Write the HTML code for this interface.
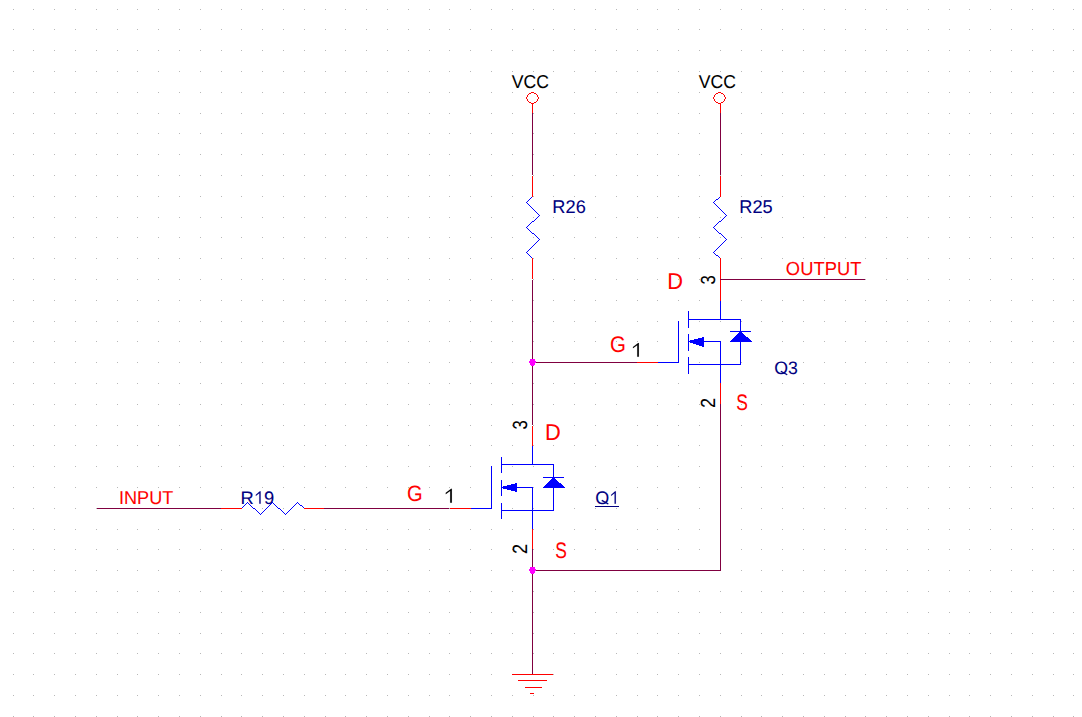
<!DOCTYPE html>
<html><head><meta charset="utf-8"><title>Schematic</title>
<style>html,body{margin:0;padding:0;background:#fff;width:1082px;height:717px;overflow:hidden}svg{display:block}text{font-family:"Liberation Sans",sans-serif}</style>
</head><body><svg width="1082" height="717" viewBox="0 0 1082 717"><g shape-rendering="crispEdges"><path d="M13 9h1v1h-1zM13 29h1v1h-1zM13 50h1v1h-1zM13 71h1v1h-1zM13 92h1v1h-1zM13 113h1v1h-1zM13 133h1v1h-1zM13 154h1v1h-1zM13 175h1v1h-1zM13 196h1v1h-1zM13 217h1v1h-1zM13 237h1v1h-1zM13 258h1v1h-1zM13 279h1v1h-1zM13 300h1v1h-1zM13 321h1v1h-1zM13 341h1v1h-1zM13 362h1v1h-1zM13 383h1v1h-1zM13 404h1v1h-1zM13 425h1v1h-1zM13 445h1v1h-1zM13 466h1v1h-1zM13 487h1v1h-1zM13 508h1v1h-1zM13 529h1v1h-1zM13 549h1v1h-1zM13 570h1v1h-1zM13 591h1v1h-1zM13 612h1v1h-1zM13 633h1v1h-1zM13 653h1v1h-1zM13 674h1v1h-1zM13 695h1v1h-1zM13 716h1v1h-1zM33 9h1v1h-1zM33 29h1v1h-1zM33 50h1v1h-1zM33 71h1v1h-1zM33 92h1v1h-1zM33 113h1v1h-1zM33 133h1v1h-1zM33 154h1v1h-1zM33 175h1v1h-1zM33 196h1v1h-1zM33 217h1v1h-1zM33 237h1v1h-1zM33 258h1v1h-1zM33 279h1v1h-1zM33 300h1v1h-1zM33 321h1v1h-1zM33 341h1v1h-1zM33 362h1v1h-1zM33 383h1v1h-1zM33 404h1v1h-1zM33 425h1v1h-1zM33 445h1v1h-1zM33 466h1v1h-1zM33 487h1v1h-1zM33 508h1v1h-1zM33 529h1v1h-1zM33 549h1v1h-1zM33 570h1v1h-1zM33 591h1v1h-1zM33 612h1v1h-1zM33 633h1v1h-1zM33 653h1v1h-1zM33 674h1v1h-1zM33 695h1v1h-1zM33 716h1v1h-1zM54 9h1v1h-1zM54 29h1v1h-1zM54 50h1v1h-1zM54 71h1v1h-1zM54 92h1v1h-1zM54 113h1v1h-1zM54 133h1v1h-1zM54 154h1v1h-1zM54 175h1v1h-1zM54 196h1v1h-1zM54 217h1v1h-1zM54 237h1v1h-1zM54 258h1v1h-1zM54 279h1v1h-1zM54 300h1v1h-1zM54 321h1v1h-1zM54 341h1v1h-1zM54 362h1v1h-1zM54 383h1v1h-1zM54 404h1v1h-1zM54 425h1v1h-1zM54 445h1v1h-1zM54 466h1v1h-1zM54 487h1v1h-1zM54 508h1v1h-1zM54 529h1v1h-1zM54 549h1v1h-1zM54 570h1v1h-1zM54 591h1v1h-1zM54 612h1v1h-1zM54 633h1v1h-1zM54 653h1v1h-1zM54 674h1v1h-1zM54 695h1v1h-1zM54 716h1v1h-1zM75 9h1v1h-1zM75 29h1v1h-1zM75 50h1v1h-1zM75 71h1v1h-1zM75 92h1v1h-1zM75 113h1v1h-1zM75 133h1v1h-1zM75 154h1v1h-1zM75 175h1v1h-1zM75 196h1v1h-1zM75 217h1v1h-1zM75 237h1v1h-1zM75 258h1v1h-1zM75 279h1v1h-1zM75 300h1v1h-1zM75 321h1v1h-1zM75 341h1v1h-1zM75 362h1v1h-1zM75 383h1v1h-1zM75 404h1v1h-1zM75 425h1v1h-1zM75 445h1v1h-1zM75 466h1v1h-1zM75 487h1v1h-1zM75 508h1v1h-1zM75 529h1v1h-1zM75 549h1v1h-1zM75 570h1v1h-1zM75 591h1v1h-1zM75 612h1v1h-1zM75 633h1v1h-1zM75 653h1v1h-1zM75 674h1v1h-1zM75 695h1v1h-1zM75 716h1v1h-1zM96 9h1v1h-1zM96 29h1v1h-1zM96 50h1v1h-1zM96 71h1v1h-1zM96 92h1v1h-1zM96 113h1v1h-1zM96 133h1v1h-1zM96 154h1v1h-1zM96 175h1v1h-1zM96 196h1v1h-1zM96 217h1v1h-1zM96 237h1v1h-1zM96 258h1v1h-1zM96 279h1v1h-1zM96 300h1v1h-1zM96 321h1v1h-1zM96 341h1v1h-1zM96 362h1v1h-1zM96 383h1v1h-1zM96 404h1v1h-1zM96 425h1v1h-1zM96 445h1v1h-1zM96 466h1v1h-1zM96 487h1v1h-1zM96 508h1v1h-1zM96 529h1v1h-1zM96 549h1v1h-1zM96 570h1v1h-1zM96 591h1v1h-1zM96 612h1v1h-1zM96 633h1v1h-1zM96 653h1v1h-1zM96 674h1v1h-1zM96 695h1v1h-1zM96 716h1v1h-1zM117 9h1v1h-1zM117 29h1v1h-1zM117 50h1v1h-1zM117 71h1v1h-1zM117 92h1v1h-1zM117 113h1v1h-1zM117 133h1v1h-1zM117 154h1v1h-1zM117 175h1v1h-1zM117 196h1v1h-1zM117 217h1v1h-1zM117 237h1v1h-1zM117 258h1v1h-1zM117 279h1v1h-1zM117 300h1v1h-1zM117 321h1v1h-1zM117 341h1v1h-1zM117 362h1v1h-1zM117 383h1v1h-1zM117 404h1v1h-1zM117 425h1v1h-1zM117 445h1v1h-1zM117 466h1v1h-1zM117 487h1v1h-1zM117 508h1v1h-1zM117 529h1v1h-1zM117 549h1v1h-1zM117 570h1v1h-1zM117 591h1v1h-1zM117 612h1v1h-1zM117 633h1v1h-1zM117 653h1v1h-1zM117 674h1v1h-1zM117 695h1v1h-1zM117 716h1v1h-1zM137 9h1v1h-1zM137 29h1v1h-1zM137 50h1v1h-1zM137 71h1v1h-1zM137 92h1v1h-1zM137 113h1v1h-1zM137 133h1v1h-1zM137 154h1v1h-1zM137 175h1v1h-1zM137 196h1v1h-1zM137 217h1v1h-1zM137 237h1v1h-1zM137 258h1v1h-1zM137 279h1v1h-1zM137 300h1v1h-1zM137 321h1v1h-1zM137 341h1v1h-1zM137 362h1v1h-1zM137 383h1v1h-1zM137 404h1v1h-1zM137 425h1v1h-1zM137 445h1v1h-1zM137 466h1v1h-1zM137 487h1v1h-1zM137 508h1v1h-1zM137 529h1v1h-1zM137 549h1v1h-1zM137 570h1v1h-1zM137 591h1v1h-1zM137 612h1v1h-1zM137 633h1v1h-1zM137 653h1v1h-1zM137 674h1v1h-1zM137 695h1v1h-1zM137 716h1v1h-1zM158 9h1v1h-1zM158 29h1v1h-1zM158 50h1v1h-1zM158 71h1v1h-1zM158 92h1v1h-1zM158 113h1v1h-1zM158 133h1v1h-1zM158 154h1v1h-1zM158 175h1v1h-1zM158 196h1v1h-1zM158 217h1v1h-1zM158 237h1v1h-1zM158 258h1v1h-1zM158 279h1v1h-1zM158 300h1v1h-1zM158 321h1v1h-1zM158 341h1v1h-1zM158 362h1v1h-1zM158 383h1v1h-1zM158 404h1v1h-1zM158 425h1v1h-1zM158 445h1v1h-1zM158 466h1v1h-1zM158 487h1v1h-1zM158 508h1v1h-1zM158 529h1v1h-1zM158 549h1v1h-1zM158 570h1v1h-1zM158 591h1v1h-1zM158 612h1v1h-1zM158 633h1v1h-1zM158 653h1v1h-1zM158 674h1v1h-1zM158 695h1v1h-1zM158 716h1v1h-1zM179 9h1v1h-1zM179 29h1v1h-1zM179 50h1v1h-1zM179 71h1v1h-1zM179 92h1v1h-1zM179 113h1v1h-1zM179 133h1v1h-1zM179 154h1v1h-1zM179 175h1v1h-1zM179 196h1v1h-1zM179 217h1v1h-1zM179 237h1v1h-1zM179 258h1v1h-1zM179 279h1v1h-1zM179 300h1v1h-1zM179 321h1v1h-1zM179 341h1v1h-1zM179 362h1v1h-1zM179 383h1v1h-1zM179 404h1v1h-1zM179 425h1v1h-1zM179 445h1v1h-1zM179 466h1v1h-1zM179 487h1v1h-1zM179 508h1v1h-1zM179 529h1v1h-1zM179 549h1v1h-1zM179 570h1v1h-1zM179 591h1v1h-1zM179 612h1v1h-1zM179 633h1v1h-1zM179 653h1v1h-1zM179 674h1v1h-1zM179 695h1v1h-1zM179 716h1v1h-1zM200 9h1v1h-1zM200 29h1v1h-1zM200 50h1v1h-1zM200 71h1v1h-1zM200 92h1v1h-1zM200 113h1v1h-1zM200 133h1v1h-1zM200 154h1v1h-1zM200 175h1v1h-1zM200 196h1v1h-1zM200 217h1v1h-1zM200 237h1v1h-1zM200 258h1v1h-1zM200 279h1v1h-1zM200 300h1v1h-1zM200 321h1v1h-1zM200 341h1v1h-1zM200 362h1v1h-1zM200 383h1v1h-1zM200 404h1v1h-1zM200 425h1v1h-1zM200 445h1v1h-1zM200 466h1v1h-1zM200 487h1v1h-1zM200 508h1v1h-1zM200 529h1v1h-1zM200 549h1v1h-1zM200 570h1v1h-1zM200 591h1v1h-1zM200 612h1v1h-1zM200 633h1v1h-1zM200 653h1v1h-1zM200 674h1v1h-1zM200 695h1v1h-1zM200 716h1v1h-1zM221 9h1v1h-1zM221 29h1v1h-1zM221 50h1v1h-1zM221 71h1v1h-1zM221 92h1v1h-1zM221 113h1v1h-1zM221 133h1v1h-1zM221 154h1v1h-1zM221 175h1v1h-1zM221 196h1v1h-1zM221 217h1v1h-1zM221 237h1v1h-1zM221 258h1v1h-1zM221 279h1v1h-1zM221 300h1v1h-1zM221 321h1v1h-1zM221 341h1v1h-1zM221 362h1v1h-1zM221 383h1v1h-1zM221 404h1v1h-1zM221 425h1v1h-1zM221 445h1v1h-1zM221 466h1v1h-1zM221 487h1v1h-1zM221 508h1v1h-1zM221 529h1v1h-1zM221 549h1v1h-1zM221 570h1v1h-1zM221 591h1v1h-1zM221 612h1v1h-1zM221 633h1v1h-1zM221 653h1v1h-1zM221 674h1v1h-1zM221 695h1v1h-1zM221 716h1v1h-1zM241 9h1v1h-1zM241 29h1v1h-1zM241 50h1v1h-1zM241 71h1v1h-1zM241 92h1v1h-1zM241 113h1v1h-1zM241 133h1v1h-1zM241 154h1v1h-1zM241 175h1v1h-1zM241 196h1v1h-1zM241 217h1v1h-1zM241 237h1v1h-1zM241 258h1v1h-1zM241 279h1v1h-1zM241 300h1v1h-1zM241 321h1v1h-1zM241 341h1v1h-1zM241 362h1v1h-1zM241 383h1v1h-1zM241 404h1v1h-1zM241 425h1v1h-1zM241 445h1v1h-1zM241 466h1v1h-1zM241 487h1v1h-1zM241 508h1v1h-1zM241 529h1v1h-1zM241 549h1v1h-1zM241 570h1v1h-1zM241 591h1v1h-1zM241 612h1v1h-1zM241 633h1v1h-1zM241 653h1v1h-1zM241 674h1v1h-1zM241 695h1v1h-1zM241 716h1v1h-1zM262 9h1v1h-1zM262 29h1v1h-1zM262 50h1v1h-1zM262 71h1v1h-1zM262 92h1v1h-1zM262 113h1v1h-1zM262 133h1v1h-1zM262 154h1v1h-1zM262 175h1v1h-1zM262 196h1v1h-1zM262 217h1v1h-1zM262 237h1v1h-1zM262 258h1v1h-1zM262 279h1v1h-1zM262 300h1v1h-1zM262 321h1v1h-1zM262 341h1v1h-1zM262 362h1v1h-1zM262 383h1v1h-1zM262 404h1v1h-1zM262 425h1v1h-1zM262 445h1v1h-1zM262 466h1v1h-1zM262 487h1v1h-1zM262 508h1v1h-1zM262 529h1v1h-1zM262 549h1v1h-1zM262 570h1v1h-1zM262 591h1v1h-1zM262 612h1v1h-1zM262 633h1v1h-1zM262 653h1v1h-1zM262 674h1v1h-1zM262 695h1v1h-1zM262 716h1v1h-1zM283 9h1v1h-1zM283 29h1v1h-1zM283 50h1v1h-1zM283 71h1v1h-1zM283 92h1v1h-1zM283 113h1v1h-1zM283 133h1v1h-1zM283 154h1v1h-1zM283 175h1v1h-1zM283 196h1v1h-1zM283 217h1v1h-1zM283 237h1v1h-1zM283 258h1v1h-1zM283 279h1v1h-1zM283 300h1v1h-1zM283 321h1v1h-1zM283 341h1v1h-1zM283 362h1v1h-1zM283 383h1v1h-1zM283 404h1v1h-1zM283 425h1v1h-1zM283 445h1v1h-1zM283 466h1v1h-1zM283 487h1v1h-1zM283 508h1v1h-1zM283 529h1v1h-1zM283 549h1v1h-1zM283 570h1v1h-1zM283 591h1v1h-1zM283 612h1v1h-1zM283 633h1v1h-1zM283 653h1v1h-1zM283 674h1v1h-1zM283 695h1v1h-1zM283 716h1v1h-1zM304 9h1v1h-1zM304 29h1v1h-1zM304 50h1v1h-1zM304 71h1v1h-1zM304 92h1v1h-1zM304 113h1v1h-1zM304 133h1v1h-1zM304 154h1v1h-1zM304 175h1v1h-1zM304 196h1v1h-1zM304 217h1v1h-1zM304 237h1v1h-1zM304 258h1v1h-1zM304 279h1v1h-1zM304 300h1v1h-1zM304 321h1v1h-1zM304 341h1v1h-1zM304 362h1v1h-1zM304 383h1v1h-1zM304 404h1v1h-1zM304 425h1v1h-1zM304 445h1v1h-1zM304 466h1v1h-1zM304 487h1v1h-1zM304 508h1v1h-1zM304 529h1v1h-1zM304 549h1v1h-1zM304 570h1v1h-1zM304 591h1v1h-1zM304 612h1v1h-1zM304 633h1v1h-1zM304 653h1v1h-1zM304 674h1v1h-1zM304 695h1v1h-1zM304 716h1v1h-1zM325 9h1v1h-1zM325 29h1v1h-1zM325 50h1v1h-1zM325 71h1v1h-1zM325 92h1v1h-1zM325 113h1v1h-1zM325 133h1v1h-1zM325 154h1v1h-1zM325 175h1v1h-1zM325 196h1v1h-1zM325 217h1v1h-1zM325 237h1v1h-1zM325 258h1v1h-1zM325 279h1v1h-1zM325 300h1v1h-1zM325 321h1v1h-1zM325 341h1v1h-1zM325 362h1v1h-1zM325 383h1v1h-1zM325 404h1v1h-1zM325 425h1v1h-1zM325 445h1v1h-1zM325 466h1v1h-1zM325 487h1v1h-1zM325 508h1v1h-1zM325 529h1v1h-1zM325 549h1v1h-1zM325 570h1v1h-1zM325 591h1v1h-1zM325 612h1v1h-1zM325 633h1v1h-1zM325 653h1v1h-1zM325 674h1v1h-1zM325 695h1v1h-1zM325 716h1v1h-1zM345 9h1v1h-1zM345 29h1v1h-1zM345 50h1v1h-1zM345 71h1v1h-1zM345 92h1v1h-1zM345 113h1v1h-1zM345 133h1v1h-1zM345 154h1v1h-1zM345 175h1v1h-1zM345 196h1v1h-1zM345 217h1v1h-1zM345 237h1v1h-1zM345 258h1v1h-1zM345 279h1v1h-1zM345 300h1v1h-1zM345 321h1v1h-1zM345 341h1v1h-1zM345 362h1v1h-1zM345 383h1v1h-1zM345 404h1v1h-1zM345 425h1v1h-1zM345 445h1v1h-1zM345 466h1v1h-1zM345 487h1v1h-1zM345 508h1v1h-1zM345 529h1v1h-1zM345 549h1v1h-1zM345 570h1v1h-1zM345 591h1v1h-1zM345 612h1v1h-1zM345 633h1v1h-1zM345 653h1v1h-1zM345 674h1v1h-1zM345 695h1v1h-1zM345 716h1v1h-1zM366 9h1v1h-1zM366 29h1v1h-1zM366 50h1v1h-1zM366 71h1v1h-1zM366 92h1v1h-1zM366 113h1v1h-1zM366 133h1v1h-1zM366 154h1v1h-1zM366 175h1v1h-1zM366 196h1v1h-1zM366 217h1v1h-1zM366 237h1v1h-1zM366 258h1v1h-1zM366 279h1v1h-1zM366 300h1v1h-1zM366 321h1v1h-1zM366 341h1v1h-1zM366 362h1v1h-1zM366 383h1v1h-1zM366 404h1v1h-1zM366 425h1v1h-1zM366 445h1v1h-1zM366 466h1v1h-1zM366 487h1v1h-1zM366 508h1v1h-1zM366 529h1v1h-1zM366 549h1v1h-1zM366 570h1v1h-1zM366 591h1v1h-1zM366 612h1v1h-1zM366 633h1v1h-1zM366 653h1v1h-1zM366 674h1v1h-1zM366 695h1v1h-1zM366 716h1v1h-1zM387 9h1v1h-1zM387 29h1v1h-1zM387 50h1v1h-1zM387 71h1v1h-1zM387 92h1v1h-1zM387 113h1v1h-1zM387 133h1v1h-1zM387 154h1v1h-1zM387 175h1v1h-1zM387 196h1v1h-1zM387 217h1v1h-1zM387 237h1v1h-1zM387 258h1v1h-1zM387 279h1v1h-1zM387 300h1v1h-1zM387 321h1v1h-1zM387 341h1v1h-1zM387 362h1v1h-1zM387 383h1v1h-1zM387 404h1v1h-1zM387 425h1v1h-1zM387 445h1v1h-1zM387 466h1v1h-1zM387 487h1v1h-1zM387 508h1v1h-1zM387 529h1v1h-1zM387 549h1v1h-1zM387 570h1v1h-1zM387 591h1v1h-1zM387 612h1v1h-1zM387 633h1v1h-1zM387 653h1v1h-1zM387 674h1v1h-1zM387 695h1v1h-1zM387 716h1v1h-1zM408 9h1v1h-1zM408 29h1v1h-1zM408 50h1v1h-1zM408 71h1v1h-1zM408 92h1v1h-1zM408 113h1v1h-1zM408 133h1v1h-1zM408 154h1v1h-1zM408 175h1v1h-1zM408 196h1v1h-1zM408 217h1v1h-1zM408 237h1v1h-1zM408 258h1v1h-1zM408 279h1v1h-1zM408 300h1v1h-1zM408 321h1v1h-1zM408 341h1v1h-1zM408 362h1v1h-1zM408 383h1v1h-1zM408 404h1v1h-1zM408 425h1v1h-1zM408 445h1v1h-1zM408 466h1v1h-1zM408 487h1v1h-1zM408 508h1v1h-1zM408 529h1v1h-1zM408 549h1v1h-1zM408 570h1v1h-1zM408 591h1v1h-1zM408 612h1v1h-1zM408 633h1v1h-1zM408 653h1v1h-1zM408 674h1v1h-1zM408 695h1v1h-1zM408 716h1v1h-1zM429 9h1v1h-1zM429 29h1v1h-1zM429 50h1v1h-1zM429 71h1v1h-1zM429 92h1v1h-1zM429 113h1v1h-1zM429 133h1v1h-1zM429 154h1v1h-1zM429 175h1v1h-1zM429 196h1v1h-1zM429 217h1v1h-1zM429 237h1v1h-1zM429 258h1v1h-1zM429 279h1v1h-1zM429 300h1v1h-1zM429 321h1v1h-1zM429 341h1v1h-1zM429 362h1v1h-1zM429 383h1v1h-1zM429 404h1v1h-1zM429 425h1v1h-1zM429 445h1v1h-1zM429 466h1v1h-1zM429 487h1v1h-1zM429 508h1v1h-1zM429 529h1v1h-1zM429 549h1v1h-1zM429 570h1v1h-1zM429 591h1v1h-1zM429 612h1v1h-1zM429 633h1v1h-1zM429 653h1v1h-1zM429 674h1v1h-1zM429 695h1v1h-1zM429 716h1v1h-1zM449 9h1v1h-1zM449 29h1v1h-1zM449 50h1v1h-1zM449 71h1v1h-1zM449 92h1v1h-1zM449 113h1v1h-1zM449 133h1v1h-1zM449 154h1v1h-1zM449 175h1v1h-1zM449 196h1v1h-1zM449 217h1v1h-1zM449 237h1v1h-1zM449 258h1v1h-1zM449 279h1v1h-1zM449 300h1v1h-1zM449 321h1v1h-1zM449 341h1v1h-1zM449 362h1v1h-1zM449 383h1v1h-1zM449 404h1v1h-1zM449 425h1v1h-1zM449 445h1v1h-1zM449 466h1v1h-1zM449 487h1v1h-1zM449 508h1v1h-1zM449 529h1v1h-1zM449 549h1v1h-1zM449 570h1v1h-1zM449 591h1v1h-1zM449 612h1v1h-1zM449 633h1v1h-1zM449 653h1v1h-1zM449 674h1v1h-1zM449 695h1v1h-1zM449 716h1v1h-1zM470 9h1v1h-1zM470 29h1v1h-1zM470 50h1v1h-1zM470 71h1v1h-1zM470 92h1v1h-1zM470 113h1v1h-1zM470 133h1v1h-1zM470 154h1v1h-1zM470 175h1v1h-1zM470 196h1v1h-1zM470 217h1v1h-1zM470 237h1v1h-1zM470 258h1v1h-1zM470 279h1v1h-1zM470 300h1v1h-1zM470 321h1v1h-1zM470 341h1v1h-1zM470 362h1v1h-1zM470 383h1v1h-1zM470 404h1v1h-1zM470 425h1v1h-1zM470 445h1v1h-1zM470 466h1v1h-1zM470 487h1v1h-1zM470 508h1v1h-1zM470 529h1v1h-1zM470 549h1v1h-1zM470 570h1v1h-1zM470 591h1v1h-1zM470 612h1v1h-1zM470 633h1v1h-1zM470 653h1v1h-1zM470 674h1v1h-1zM470 695h1v1h-1zM470 716h1v1h-1zM491 9h1v1h-1zM491 29h1v1h-1zM491 50h1v1h-1zM491 71h1v1h-1zM491 92h1v1h-1zM491 113h1v1h-1zM491 133h1v1h-1zM491 154h1v1h-1zM491 175h1v1h-1zM491 196h1v1h-1zM491 217h1v1h-1zM491 237h1v1h-1zM491 258h1v1h-1zM491 279h1v1h-1zM491 300h1v1h-1zM491 321h1v1h-1zM491 341h1v1h-1zM491 362h1v1h-1zM491 383h1v1h-1zM491 404h1v1h-1zM491 425h1v1h-1zM491 445h1v1h-1zM491 466h1v1h-1zM491 487h1v1h-1zM491 508h1v1h-1zM491 529h1v1h-1zM491 549h1v1h-1zM491 570h1v1h-1zM491 591h1v1h-1zM491 612h1v1h-1zM491 633h1v1h-1zM491 653h1v1h-1zM491 674h1v1h-1zM491 695h1v1h-1zM491 716h1v1h-1zM512 9h1v1h-1zM512 29h1v1h-1zM512 50h1v1h-1zM512 71h1v1h-1zM512 92h1v1h-1zM512 113h1v1h-1zM512 133h1v1h-1zM512 154h1v1h-1zM512 175h1v1h-1zM512 196h1v1h-1zM512 217h1v1h-1zM512 237h1v1h-1zM512 258h1v1h-1zM512 279h1v1h-1zM512 300h1v1h-1zM512 321h1v1h-1zM512 341h1v1h-1zM512 362h1v1h-1zM512 383h1v1h-1zM512 404h1v1h-1zM512 425h1v1h-1zM512 445h1v1h-1zM512 466h1v1h-1zM512 487h1v1h-1zM512 508h1v1h-1zM512 529h1v1h-1zM512 549h1v1h-1zM512 570h1v1h-1zM512 591h1v1h-1zM512 612h1v1h-1zM512 633h1v1h-1zM512 653h1v1h-1zM512 674h1v1h-1zM512 695h1v1h-1zM512 716h1v1h-1zM533 9h1v1h-1zM533 29h1v1h-1zM533 50h1v1h-1zM533 71h1v1h-1zM533 92h1v1h-1zM533 113h1v1h-1zM533 133h1v1h-1zM533 154h1v1h-1zM533 175h1v1h-1zM533 196h1v1h-1zM533 217h1v1h-1zM533 237h1v1h-1zM533 258h1v1h-1zM533 279h1v1h-1zM533 300h1v1h-1zM533 321h1v1h-1zM533 341h1v1h-1zM533 362h1v1h-1zM533 383h1v1h-1zM533 404h1v1h-1zM533 425h1v1h-1zM533 445h1v1h-1zM533 466h1v1h-1zM533 487h1v1h-1zM533 508h1v1h-1zM533 529h1v1h-1zM533 549h1v1h-1zM533 570h1v1h-1zM533 591h1v1h-1zM533 612h1v1h-1zM533 633h1v1h-1zM533 653h1v1h-1zM533 674h1v1h-1zM533 695h1v1h-1zM533 716h1v1h-1zM553 9h1v1h-1zM553 29h1v1h-1zM553 50h1v1h-1zM553 71h1v1h-1zM553 92h1v1h-1zM553 113h1v1h-1zM553 133h1v1h-1zM553 154h1v1h-1zM553 175h1v1h-1zM553 196h1v1h-1zM553 217h1v1h-1zM553 237h1v1h-1zM553 258h1v1h-1zM553 279h1v1h-1zM553 300h1v1h-1zM553 321h1v1h-1zM553 341h1v1h-1zM553 362h1v1h-1zM553 383h1v1h-1zM553 404h1v1h-1zM553 425h1v1h-1zM553 445h1v1h-1zM553 466h1v1h-1zM553 487h1v1h-1zM553 508h1v1h-1zM553 529h1v1h-1zM553 549h1v1h-1zM553 570h1v1h-1zM553 591h1v1h-1zM553 612h1v1h-1zM553 633h1v1h-1zM553 653h1v1h-1zM553 674h1v1h-1zM553 695h1v1h-1zM553 716h1v1h-1zM574 9h1v1h-1zM574 29h1v1h-1zM574 50h1v1h-1zM574 71h1v1h-1zM574 92h1v1h-1zM574 113h1v1h-1zM574 133h1v1h-1zM574 154h1v1h-1zM574 175h1v1h-1zM574 196h1v1h-1zM574 217h1v1h-1zM574 237h1v1h-1zM574 258h1v1h-1zM574 279h1v1h-1zM574 300h1v1h-1zM574 321h1v1h-1zM574 341h1v1h-1zM574 362h1v1h-1zM574 383h1v1h-1zM574 404h1v1h-1zM574 425h1v1h-1zM574 445h1v1h-1zM574 466h1v1h-1zM574 487h1v1h-1zM574 508h1v1h-1zM574 529h1v1h-1zM574 549h1v1h-1zM574 570h1v1h-1zM574 591h1v1h-1zM574 612h1v1h-1zM574 633h1v1h-1zM574 653h1v1h-1zM574 674h1v1h-1zM574 695h1v1h-1zM574 716h1v1h-1zM595 9h1v1h-1zM595 29h1v1h-1zM595 50h1v1h-1zM595 71h1v1h-1zM595 92h1v1h-1zM595 113h1v1h-1zM595 133h1v1h-1zM595 154h1v1h-1zM595 175h1v1h-1zM595 196h1v1h-1zM595 217h1v1h-1zM595 237h1v1h-1zM595 258h1v1h-1zM595 279h1v1h-1zM595 300h1v1h-1zM595 321h1v1h-1zM595 341h1v1h-1zM595 362h1v1h-1zM595 383h1v1h-1zM595 404h1v1h-1zM595 425h1v1h-1zM595 445h1v1h-1zM595 466h1v1h-1zM595 487h1v1h-1zM595 508h1v1h-1zM595 529h1v1h-1zM595 549h1v1h-1zM595 570h1v1h-1zM595 591h1v1h-1zM595 612h1v1h-1zM595 633h1v1h-1zM595 653h1v1h-1zM595 674h1v1h-1zM595 695h1v1h-1zM595 716h1v1h-1zM616 9h1v1h-1zM616 29h1v1h-1zM616 50h1v1h-1zM616 71h1v1h-1zM616 92h1v1h-1zM616 113h1v1h-1zM616 133h1v1h-1zM616 154h1v1h-1zM616 175h1v1h-1zM616 196h1v1h-1zM616 217h1v1h-1zM616 237h1v1h-1zM616 258h1v1h-1zM616 279h1v1h-1zM616 300h1v1h-1zM616 321h1v1h-1zM616 341h1v1h-1zM616 362h1v1h-1zM616 383h1v1h-1zM616 404h1v1h-1zM616 425h1v1h-1zM616 445h1v1h-1zM616 466h1v1h-1zM616 487h1v1h-1zM616 508h1v1h-1zM616 529h1v1h-1zM616 549h1v1h-1zM616 570h1v1h-1zM616 591h1v1h-1zM616 612h1v1h-1zM616 633h1v1h-1zM616 653h1v1h-1zM616 674h1v1h-1zM616 695h1v1h-1zM616 716h1v1h-1zM637 9h1v1h-1zM637 29h1v1h-1zM637 50h1v1h-1zM637 71h1v1h-1zM637 92h1v1h-1zM637 113h1v1h-1zM637 133h1v1h-1zM637 154h1v1h-1zM637 175h1v1h-1zM637 196h1v1h-1zM637 217h1v1h-1zM637 237h1v1h-1zM637 258h1v1h-1zM637 279h1v1h-1zM637 300h1v1h-1zM637 321h1v1h-1zM637 341h1v1h-1zM637 362h1v1h-1zM637 383h1v1h-1zM637 404h1v1h-1zM637 425h1v1h-1zM637 445h1v1h-1zM637 466h1v1h-1zM637 487h1v1h-1zM637 508h1v1h-1zM637 529h1v1h-1zM637 549h1v1h-1zM637 570h1v1h-1zM637 591h1v1h-1zM637 612h1v1h-1zM637 633h1v1h-1zM637 653h1v1h-1zM637 674h1v1h-1zM637 695h1v1h-1zM637 716h1v1h-1zM657 9h1v1h-1zM657 29h1v1h-1zM657 50h1v1h-1zM657 71h1v1h-1zM657 92h1v1h-1zM657 113h1v1h-1zM657 133h1v1h-1zM657 154h1v1h-1zM657 175h1v1h-1zM657 196h1v1h-1zM657 217h1v1h-1zM657 237h1v1h-1zM657 258h1v1h-1zM657 279h1v1h-1zM657 300h1v1h-1zM657 321h1v1h-1zM657 341h1v1h-1zM657 362h1v1h-1zM657 383h1v1h-1zM657 404h1v1h-1zM657 425h1v1h-1zM657 445h1v1h-1zM657 466h1v1h-1zM657 487h1v1h-1zM657 508h1v1h-1zM657 529h1v1h-1zM657 549h1v1h-1zM657 570h1v1h-1zM657 591h1v1h-1zM657 612h1v1h-1zM657 633h1v1h-1zM657 653h1v1h-1zM657 674h1v1h-1zM657 695h1v1h-1zM657 716h1v1h-1zM678 9h1v1h-1zM678 29h1v1h-1zM678 50h1v1h-1zM678 71h1v1h-1zM678 92h1v1h-1zM678 113h1v1h-1zM678 133h1v1h-1zM678 154h1v1h-1zM678 175h1v1h-1zM678 196h1v1h-1zM678 217h1v1h-1zM678 237h1v1h-1zM678 258h1v1h-1zM678 279h1v1h-1zM678 300h1v1h-1zM678 321h1v1h-1zM678 341h1v1h-1zM678 362h1v1h-1zM678 383h1v1h-1zM678 404h1v1h-1zM678 425h1v1h-1zM678 445h1v1h-1zM678 466h1v1h-1zM678 487h1v1h-1zM678 508h1v1h-1zM678 529h1v1h-1zM678 549h1v1h-1zM678 570h1v1h-1zM678 591h1v1h-1zM678 612h1v1h-1zM678 633h1v1h-1zM678 653h1v1h-1zM678 674h1v1h-1zM678 695h1v1h-1zM678 716h1v1h-1zM699 9h1v1h-1zM699 29h1v1h-1zM699 50h1v1h-1zM699 71h1v1h-1zM699 92h1v1h-1zM699 113h1v1h-1zM699 133h1v1h-1zM699 154h1v1h-1zM699 175h1v1h-1zM699 196h1v1h-1zM699 217h1v1h-1zM699 237h1v1h-1zM699 258h1v1h-1zM699 279h1v1h-1zM699 300h1v1h-1zM699 321h1v1h-1zM699 341h1v1h-1zM699 362h1v1h-1zM699 383h1v1h-1zM699 404h1v1h-1zM699 425h1v1h-1zM699 445h1v1h-1zM699 466h1v1h-1zM699 487h1v1h-1zM699 508h1v1h-1zM699 529h1v1h-1zM699 549h1v1h-1zM699 570h1v1h-1zM699 591h1v1h-1zM699 612h1v1h-1zM699 633h1v1h-1zM699 653h1v1h-1zM699 674h1v1h-1zM699 695h1v1h-1zM699 716h1v1h-1zM720 9h1v1h-1zM720 29h1v1h-1zM720 50h1v1h-1zM720 71h1v1h-1zM720 92h1v1h-1zM720 113h1v1h-1zM720 133h1v1h-1zM720 154h1v1h-1zM720 175h1v1h-1zM720 196h1v1h-1zM720 217h1v1h-1zM720 237h1v1h-1zM720 258h1v1h-1zM720 279h1v1h-1zM720 300h1v1h-1zM720 321h1v1h-1zM720 341h1v1h-1zM720 362h1v1h-1zM720 383h1v1h-1zM720 404h1v1h-1zM720 425h1v1h-1zM720 445h1v1h-1zM720 466h1v1h-1zM720 487h1v1h-1zM720 508h1v1h-1zM720 529h1v1h-1zM720 549h1v1h-1zM720 570h1v1h-1zM720 591h1v1h-1zM720 612h1v1h-1zM720 633h1v1h-1zM720 653h1v1h-1zM720 674h1v1h-1zM720 695h1v1h-1zM720 716h1v1h-1zM741 9h1v1h-1zM741 29h1v1h-1zM741 50h1v1h-1zM741 71h1v1h-1zM741 92h1v1h-1zM741 113h1v1h-1zM741 133h1v1h-1zM741 154h1v1h-1zM741 175h1v1h-1zM741 196h1v1h-1zM741 217h1v1h-1zM741 237h1v1h-1zM741 258h1v1h-1zM741 279h1v1h-1zM741 300h1v1h-1zM741 321h1v1h-1zM741 341h1v1h-1zM741 362h1v1h-1zM741 383h1v1h-1zM741 404h1v1h-1zM741 425h1v1h-1zM741 445h1v1h-1zM741 466h1v1h-1zM741 487h1v1h-1zM741 508h1v1h-1zM741 529h1v1h-1zM741 549h1v1h-1zM741 570h1v1h-1zM741 591h1v1h-1zM741 612h1v1h-1zM741 633h1v1h-1zM741 653h1v1h-1zM741 674h1v1h-1zM741 695h1v1h-1zM741 716h1v1h-1zM761 9h1v1h-1zM761 29h1v1h-1zM761 50h1v1h-1zM761 71h1v1h-1zM761 92h1v1h-1zM761 113h1v1h-1zM761 133h1v1h-1zM761 154h1v1h-1zM761 175h1v1h-1zM761 196h1v1h-1zM761 217h1v1h-1zM761 237h1v1h-1zM761 258h1v1h-1zM761 279h1v1h-1zM761 300h1v1h-1zM761 321h1v1h-1zM761 341h1v1h-1zM761 362h1v1h-1zM761 383h1v1h-1zM761 404h1v1h-1zM761 425h1v1h-1zM761 445h1v1h-1zM761 466h1v1h-1zM761 487h1v1h-1zM761 508h1v1h-1zM761 529h1v1h-1zM761 549h1v1h-1zM761 570h1v1h-1zM761 591h1v1h-1zM761 612h1v1h-1zM761 633h1v1h-1zM761 653h1v1h-1zM761 674h1v1h-1zM761 695h1v1h-1zM761 716h1v1h-1zM782 9h1v1h-1zM782 29h1v1h-1zM782 50h1v1h-1zM782 71h1v1h-1zM782 92h1v1h-1zM782 113h1v1h-1zM782 133h1v1h-1zM782 154h1v1h-1zM782 175h1v1h-1zM782 196h1v1h-1zM782 217h1v1h-1zM782 237h1v1h-1zM782 258h1v1h-1zM782 279h1v1h-1zM782 300h1v1h-1zM782 321h1v1h-1zM782 341h1v1h-1zM782 362h1v1h-1zM782 383h1v1h-1zM782 404h1v1h-1zM782 425h1v1h-1zM782 445h1v1h-1zM782 466h1v1h-1zM782 487h1v1h-1zM782 508h1v1h-1zM782 529h1v1h-1zM782 549h1v1h-1zM782 570h1v1h-1zM782 591h1v1h-1zM782 612h1v1h-1zM782 633h1v1h-1zM782 653h1v1h-1zM782 674h1v1h-1zM782 695h1v1h-1zM782 716h1v1h-1zM803 9h1v1h-1zM803 29h1v1h-1zM803 50h1v1h-1zM803 71h1v1h-1zM803 92h1v1h-1zM803 113h1v1h-1zM803 133h1v1h-1zM803 154h1v1h-1zM803 175h1v1h-1zM803 196h1v1h-1zM803 217h1v1h-1zM803 237h1v1h-1zM803 258h1v1h-1zM803 279h1v1h-1zM803 300h1v1h-1zM803 321h1v1h-1zM803 341h1v1h-1zM803 362h1v1h-1zM803 383h1v1h-1zM803 404h1v1h-1zM803 425h1v1h-1zM803 445h1v1h-1zM803 466h1v1h-1zM803 487h1v1h-1zM803 508h1v1h-1zM803 529h1v1h-1zM803 549h1v1h-1zM803 570h1v1h-1zM803 591h1v1h-1zM803 612h1v1h-1zM803 633h1v1h-1zM803 653h1v1h-1zM803 674h1v1h-1zM803 695h1v1h-1zM803 716h1v1h-1zM824 9h1v1h-1zM824 29h1v1h-1zM824 50h1v1h-1zM824 71h1v1h-1zM824 92h1v1h-1zM824 113h1v1h-1zM824 133h1v1h-1zM824 154h1v1h-1zM824 175h1v1h-1zM824 196h1v1h-1zM824 217h1v1h-1zM824 237h1v1h-1zM824 258h1v1h-1zM824 279h1v1h-1zM824 300h1v1h-1zM824 321h1v1h-1zM824 341h1v1h-1zM824 362h1v1h-1zM824 383h1v1h-1zM824 404h1v1h-1zM824 425h1v1h-1zM824 445h1v1h-1zM824 466h1v1h-1zM824 487h1v1h-1zM824 508h1v1h-1zM824 529h1v1h-1zM824 549h1v1h-1zM824 570h1v1h-1zM824 591h1v1h-1zM824 612h1v1h-1zM824 633h1v1h-1zM824 653h1v1h-1zM824 674h1v1h-1zM824 695h1v1h-1zM824 716h1v1h-1zM845 9h1v1h-1zM845 29h1v1h-1zM845 50h1v1h-1zM845 71h1v1h-1zM845 92h1v1h-1zM845 113h1v1h-1zM845 133h1v1h-1zM845 154h1v1h-1zM845 175h1v1h-1zM845 196h1v1h-1zM845 217h1v1h-1zM845 237h1v1h-1zM845 258h1v1h-1zM845 279h1v1h-1zM845 300h1v1h-1zM845 321h1v1h-1zM845 341h1v1h-1zM845 362h1v1h-1zM845 383h1v1h-1zM845 404h1v1h-1zM845 425h1v1h-1zM845 445h1v1h-1zM845 466h1v1h-1zM845 487h1v1h-1zM845 508h1v1h-1zM845 529h1v1h-1zM845 549h1v1h-1zM845 570h1v1h-1zM845 591h1v1h-1zM845 612h1v1h-1zM845 633h1v1h-1zM845 653h1v1h-1zM845 674h1v1h-1zM845 695h1v1h-1zM845 716h1v1h-1zM865 9h1v1h-1zM865 29h1v1h-1zM865 50h1v1h-1zM865 71h1v1h-1zM865 92h1v1h-1zM865 113h1v1h-1zM865 133h1v1h-1zM865 154h1v1h-1zM865 175h1v1h-1zM865 196h1v1h-1zM865 217h1v1h-1zM865 237h1v1h-1zM865 258h1v1h-1zM865 279h1v1h-1zM865 300h1v1h-1zM865 321h1v1h-1zM865 341h1v1h-1zM865 362h1v1h-1zM865 383h1v1h-1zM865 404h1v1h-1zM865 425h1v1h-1zM865 445h1v1h-1zM865 466h1v1h-1zM865 487h1v1h-1zM865 508h1v1h-1zM865 529h1v1h-1zM865 549h1v1h-1zM865 570h1v1h-1zM865 591h1v1h-1zM865 612h1v1h-1zM865 633h1v1h-1zM865 653h1v1h-1zM865 674h1v1h-1zM865 695h1v1h-1zM865 716h1v1h-1zM886 9h1v1h-1zM886 29h1v1h-1zM886 50h1v1h-1zM886 71h1v1h-1zM886 92h1v1h-1zM886 113h1v1h-1zM886 133h1v1h-1zM886 154h1v1h-1zM886 175h1v1h-1zM886 196h1v1h-1zM886 217h1v1h-1zM886 237h1v1h-1zM886 258h1v1h-1zM886 279h1v1h-1zM886 300h1v1h-1zM886 321h1v1h-1zM886 341h1v1h-1zM886 362h1v1h-1zM886 383h1v1h-1zM886 404h1v1h-1zM886 425h1v1h-1zM886 445h1v1h-1zM886 466h1v1h-1zM886 487h1v1h-1zM886 508h1v1h-1zM886 529h1v1h-1zM886 549h1v1h-1zM886 570h1v1h-1zM886 591h1v1h-1zM886 612h1v1h-1zM886 633h1v1h-1zM886 653h1v1h-1zM886 674h1v1h-1zM886 695h1v1h-1zM886 716h1v1h-1zM907 9h1v1h-1zM907 29h1v1h-1zM907 50h1v1h-1zM907 71h1v1h-1zM907 92h1v1h-1zM907 113h1v1h-1zM907 133h1v1h-1zM907 154h1v1h-1zM907 175h1v1h-1zM907 196h1v1h-1zM907 217h1v1h-1zM907 237h1v1h-1zM907 258h1v1h-1zM907 279h1v1h-1zM907 300h1v1h-1zM907 321h1v1h-1zM907 341h1v1h-1zM907 362h1v1h-1zM907 383h1v1h-1zM907 404h1v1h-1zM907 425h1v1h-1zM907 445h1v1h-1zM907 466h1v1h-1zM907 487h1v1h-1zM907 508h1v1h-1zM907 529h1v1h-1zM907 549h1v1h-1zM907 570h1v1h-1zM907 591h1v1h-1zM907 612h1v1h-1zM907 633h1v1h-1zM907 653h1v1h-1zM907 674h1v1h-1zM907 695h1v1h-1zM907 716h1v1h-1zM928 9h1v1h-1zM928 29h1v1h-1zM928 50h1v1h-1zM928 71h1v1h-1zM928 92h1v1h-1zM928 113h1v1h-1zM928 133h1v1h-1zM928 154h1v1h-1zM928 175h1v1h-1zM928 196h1v1h-1zM928 217h1v1h-1zM928 237h1v1h-1zM928 258h1v1h-1zM928 279h1v1h-1zM928 300h1v1h-1zM928 321h1v1h-1zM928 341h1v1h-1zM928 362h1v1h-1zM928 383h1v1h-1zM928 404h1v1h-1zM928 425h1v1h-1zM928 445h1v1h-1zM928 466h1v1h-1zM928 487h1v1h-1zM928 508h1v1h-1zM928 529h1v1h-1zM928 549h1v1h-1zM928 570h1v1h-1zM928 591h1v1h-1zM928 612h1v1h-1zM928 633h1v1h-1zM928 653h1v1h-1zM928 674h1v1h-1zM928 695h1v1h-1zM928 716h1v1h-1zM949 9h1v1h-1zM949 29h1v1h-1zM949 50h1v1h-1zM949 71h1v1h-1zM949 92h1v1h-1zM949 113h1v1h-1zM949 133h1v1h-1zM949 154h1v1h-1zM949 175h1v1h-1zM949 196h1v1h-1zM949 217h1v1h-1zM949 237h1v1h-1zM949 258h1v1h-1zM949 279h1v1h-1zM949 300h1v1h-1zM949 321h1v1h-1zM949 341h1v1h-1zM949 362h1v1h-1zM949 383h1v1h-1zM949 404h1v1h-1zM949 425h1v1h-1zM949 445h1v1h-1zM949 466h1v1h-1zM949 487h1v1h-1zM949 508h1v1h-1zM949 529h1v1h-1zM949 549h1v1h-1zM949 570h1v1h-1zM949 591h1v1h-1zM949 612h1v1h-1zM949 633h1v1h-1zM949 653h1v1h-1zM949 674h1v1h-1zM949 695h1v1h-1zM949 716h1v1h-1zM969 9h1v1h-1zM969 29h1v1h-1zM969 50h1v1h-1zM969 71h1v1h-1zM969 92h1v1h-1zM969 113h1v1h-1zM969 133h1v1h-1zM969 154h1v1h-1zM969 175h1v1h-1zM969 196h1v1h-1zM969 217h1v1h-1zM969 237h1v1h-1zM969 258h1v1h-1zM969 279h1v1h-1zM969 300h1v1h-1zM969 321h1v1h-1zM969 341h1v1h-1zM969 362h1v1h-1zM969 383h1v1h-1zM969 404h1v1h-1zM969 425h1v1h-1zM969 445h1v1h-1zM969 466h1v1h-1zM969 487h1v1h-1zM969 508h1v1h-1zM969 529h1v1h-1zM969 549h1v1h-1zM969 570h1v1h-1zM969 591h1v1h-1zM969 612h1v1h-1zM969 633h1v1h-1zM969 653h1v1h-1zM969 674h1v1h-1zM969 695h1v1h-1zM969 716h1v1h-1zM990 9h1v1h-1zM990 29h1v1h-1zM990 50h1v1h-1zM990 71h1v1h-1zM990 92h1v1h-1zM990 113h1v1h-1zM990 133h1v1h-1zM990 154h1v1h-1zM990 175h1v1h-1zM990 196h1v1h-1zM990 217h1v1h-1zM990 237h1v1h-1zM990 258h1v1h-1zM990 279h1v1h-1zM990 300h1v1h-1zM990 321h1v1h-1zM990 341h1v1h-1zM990 362h1v1h-1zM990 383h1v1h-1zM990 404h1v1h-1zM990 425h1v1h-1zM990 445h1v1h-1zM990 466h1v1h-1zM990 487h1v1h-1zM990 508h1v1h-1zM990 529h1v1h-1zM990 549h1v1h-1zM990 570h1v1h-1zM990 591h1v1h-1zM990 612h1v1h-1zM990 633h1v1h-1zM990 653h1v1h-1zM990 674h1v1h-1zM990 695h1v1h-1zM990 716h1v1h-1zM1011 9h1v1h-1zM1011 29h1v1h-1zM1011 50h1v1h-1zM1011 71h1v1h-1zM1011 92h1v1h-1zM1011 113h1v1h-1zM1011 133h1v1h-1zM1011 154h1v1h-1zM1011 175h1v1h-1zM1011 196h1v1h-1zM1011 217h1v1h-1zM1011 237h1v1h-1zM1011 258h1v1h-1zM1011 279h1v1h-1zM1011 300h1v1h-1zM1011 321h1v1h-1zM1011 341h1v1h-1zM1011 362h1v1h-1zM1011 383h1v1h-1zM1011 404h1v1h-1zM1011 425h1v1h-1zM1011 445h1v1h-1zM1011 466h1v1h-1zM1011 487h1v1h-1zM1011 508h1v1h-1zM1011 529h1v1h-1zM1011 549h1v1h-1zM1011 570h1v1h-1zM1011 591h1v1h-1zM1011 612h1v1h-1zM1011 633h1v1h-1zM1011 653h1v1h-1zM1011 674h1v1h-1zM1011 695h1v1h-1zM1011 716h1v1h-1zM1032 9h1v1h-1zM1032 29h1v1h-1zM1032 50h1v1h-1zM1032 71h1v1h-1zM1032 92h1v1h-1zM1032 113h1v1h-1zM1032 133h1v1h-1zM1032 154h1v1h-1zM1032 175h1v1h-1zM1032 196h1v1h-1zM1032 217h1v1h-1zM1032 237h1v1h-1zM1032 258h1v1h-1zM1032 279h1v1h-1zM1032 300h1v1h-1zM1032 321h1v1h-1zM1032 341h1v1h-1zM1032 362h1v1h-1zM1032 383h1v1h-1zM1032 404h1v1h-1zM1032 425h1v1h-1zM1032 445h1v1h-1zM1032 466h1v1h-1zM1032 487h1v1h-1zM1032 508h1v1h-1zM1032 529h1v1h-1zM1032 549h1v1h-1zM1032 570h1v1h-1zM1032 591h1v1h-1zM1032 612h1v1h-1zM1032 633h1v1h-1zM1032 653h1v1h-1zM1032 674h1v1h-1zM1032 695h1v1h-1zM1032 716h1v1h-1zM1053 9h1v1h-1zM1053 29h1v1h-1zM1053 50h1v1h-1zM1053 71h1v1h-1zM1053 92h1v1h-1zM1053 113h1v1h-1zM1053 133h1v1h-1zM1053 154h1v1h-1zM1053 175h1v1h-1zM1053 196h1v1h-1zM1053 217h1v1h-1zM1053 237h1v1h-1zM1053 258h1v1h-1zM1053 279h1v1h-1zM1053 300h1v1h-1zM1053 321h1v1h-1zM1053 341h1v1h-1zM1053 362h1v1h-1zM1053 383h1v1h-1zM1053 404h1v1h-1zM1053 425h1v1h-1zM1053 445h1v1h-1zM1053 466h1v1h-1zM1053 487h1v1h-1zM1053 508h1v1h-1zM1053 529h1v1h-1zM1053 549h1v1h-1zM1053 570h1v1h-1zM1053 591h1v1h-1zM1053 612h1v1h-1zM1053 633h1v1h-1zM1053 653h1v1h-1zM1053 674h1v1h-1zM1053 695h1v1h-1zM1053 716h1v1h-1zM1073 9h1v1h-1zM1073 29h1v1h-1zM1073 50h1v1h-1zM1073 71h1v1h-1zM1073 92h1v1h-1zM1073 113h1v1h-1zM1073 133h1v1h-1zM1073 154h1v1h-1zM1073 175h1v1h-1zM1073 196h1v1h-1zM1073 217h1v1h-1zM1073 237h1v1h-1zM1073 258h1v1h-1zM1073 279h1v1h-1zM1073 300h1v1h-1zM1073 321h1v1h-1zM1073 341h1v1h-1zM1073 362h1v1h-1zM1073 383h1v1h-1zM1073 404h1v1h-1zM1073 425h1v1h-1zM1073 445h1v1h-1zM1073 466h1v1h-1zM1073 487h1v1h-1zM1073 508h1v1h-1zM1073 529h1v1h-1zM1073 549h1v1h-1zM1073 570h1v1h-1zM1073 591h1v1h-1zM1073 612h1v1h-1zM1073 633h1v1h-1zM1073 653h1v1h-1zM1073 674h1v1h-1zM1073 695h1v1h-1zM1073 716h1v1h-1z" fill="#b8b8b8"/><path d="M531 92h3v1h-3zM718 92h3v1h-3zM529 93h2v1h-2zM534 93h2v1h-2zM716 93h2v1h-2zM721 93h2v1h-2zM528 94h1v1h-1zM536 94h1v1h-1zM715 94h1v1h-1zM723 94h1v1h-1zM527 95h1v1h-1zM537 95h1v1h-1zM714 95h1v1h-1zM724 95h1v1h-1zM527 96h1v1h-1zM537 96h1v1h-1zM714 96h1v1h-1zM724 96h1v1h-1zM526 97h1v1h-1zM538 97h1v1h-1zM713 97h1v1h-1zM725 97h1v1h-1zM526 98h1v1h-1zM538 98h1v1h-1zM713 98h1v1h-1zM725 98h1v1h-1zM527 99h1v1h-1zM537 99h1v1h-1zM714 99h1v1h-1zM724 99h1v1h-1zM527 100h1v1h-1zM537 100h1v1h-1zM714 100h1v1h-1zM724 100h1v1h-1zM528 101h1v1h-1zM536 101h1v1h-1zM715 101h1v1h-1zM723 101h1v1h-1zM529 102h2v1h-2zM534 102h2v1h-2zM716 102h2v1h-2zM721 102h2v1h-2zM531 103h3v1h-3zM718 103h3v1h-3zM532 104h1v1h-1zM720 104h1v1h-1zM532 105h1v1h-1zM720 105h1v1h-1zM532 106h1v1h-1zM720 106h1v1h-1zM532 107h1v1h-1zM720 107h1v1h-1zM532 108h1v1h-1zM720 108h1v1h-1zM532 109h1v1h-1zM720 109h1v1h-1zM532 110h1v1h-1zM720 110h1v1h-1zM532 111h1v1h-1zM720 111h1v1h-1zM532 112h1v1h-1zM720 112h1v1h-1zM532 176h1v1h-1zM720 176h1v1h-1zM532 177h1v1h-1zM720 177h1v1h-1zM532 178h1v1h-1zM720 178h1v1h-1zM532 179h1v1h-1zM720 179h1v1h-1zM532 180h1v1h-1zM720 180h1v1h-1zM532 181h1v1h-1zM720 181h1v1h-1zM532 182h1v1h-1zM720 182h1v1h-1zM532 183h1v1h-1zM720 183h1v1h-1zM532 184h1v1h-1zM720 184h1v1h-1zM532 185h1v1h-1zM720 185h1v1h-1zM532 186h1v1h-1zM720 186h1v1h-1zM532 187h1v1h-1zM720 187h1v1h-1zM532 188h1v1h-1zM720 188h1v1h-1zM532 189h1v1h-1zM720 189h1v1h-1zM532 190h1v1h-1zM720 190h1v1h-1zM532 191h1v1h-1zM720 191h1v1h-1zM532 192h1v1h-1zM720 192h1v1h-1zM532 193h1v1h-1zM720 193h1v1h-1zM532 194h1v1h-1zM720 194h1v1h-1zM532 195h1v1h-1zM720 195h1v1h-1zM532 196h1v1h-1zM720 196h1v1h-1zM532 258h1v1h-1zM720 258h1v1h-1zM532 259h1v1h-1zM720 259h1v1h-1zM532 260h1v1h-1zM720 260h1v1h-1zM532 261h1v1h-1zM720 261h1v1h-1zM532 262h1v1h-1zM720 262h1v1h-1zM532 263h1v1h-1zM720 263h1v1h-1zM532 264h1v1h-1zM720 264h1v1h-1zM532 265h1v1h-1zM720 265h1v1h-1zM532 266h1v1h-1zM720 266h1v1h-1zM532 267h1v1h-1zM720 267h1v1h-1zM532 268h1v1h-1zM720 268h1v1h-1zM532 269h1v1h-1zM720 269h1v1h-1zM532 270h1v1h-1zM720 270h1v1h-1zM532 271h1v1h-1zM720 271h1v1h-1zM532 272h1v1h-1zM720 272h1v1h-1zM532 273h1v1h-1zM720 273h1v1h-1zM532 274h1v1h-1zM720 274h1v1h-1zM532 275h1v1h-1zM720 275h1v1h-1zM532 276h1v1h-1zM720 276h1v1h-1zM532 277h1v1h-1zM720 277h1v1h-1zM532 278h1v1h-1zM720 278h1v1h-1zM720 280h1v1h-1zM720 281h1v1h-1zM720 282h1v1h-1zM720 283h1v1h-1zM720 284h1v1h-1zM720 285h1v1h-1zM720 286h1v1h-1zM720 287h1v1h-1zM720 288h1v1h-1zM720 289h1v1h-1zM720 290h1v1h-1zM720 291h1v1h-1zM720 292h1v1h-1zM720 293h1v1h-1zM720 294h1v1h-1zM720 295h1v1h-1zM720 296h1v1h-1zM720 297h1v1h-1zM720 298h1v1h-1zM720 299h1v1h-1zM720 300h1v1h-1zM637 362h21v1h-21zM720 383h1v1h-1zM720 384h1v1h-1zM720 385h1v1h-1zM720 386h1v1h-1zM720 387h1v1h-1zM720 388h1v1h-1zM720 389h1v1h-1zM720 390h1v1h-1zM720 391h1v1h-1zM720 392h1v1h-1zM720 393h1v1h-1zM720 394h1v1h-1zM720 395h1v1h-1zM720 396h1v1h-1zM720 397h1v1h-1zM720 398h1v1h-1zM720 399h1v1h-1zM720 400h1v1h-1zM720 401h1v1h-1zM720 402h1v1h-1zM720 403h1v1h-1zM532 426h1v1h-1zM532 427h1v1h-1zM532 428h1v1h-1zM532 429h1v1h-1zM532 430h1v1h-1zM532 431h1v1h-1zM532 432h1v1h-1zM532 433h1v1h-1zM532 434h1v1h-1zM532 435h1v1h-1zM532 436h1v1h-1zM532 437h1v1h-1zM532 438h1v1h-1zM532 439h1v1h-1zM532 440h1v1h-1zM532 441h1v1h-1zM532 442h1v1h-1zM532 443h1v1h-1zM532 444h1v1h-1zM532 445h1v1h-1zM221 508h21v1h-21zM304 508h20v1h-20zM450 508h21v1h-21zM532 529h1v1h-1zM532 530h1v1h-1zM532 531h1v1h-1zM532 532h1v1h-1zM532 533h1v1h-1zM532 534h1v1h-1zM532 535h1v1h-1zM532 536h1v1h-1zM532 537h1v1h-1zM532 538h1v1h-1zM532 539h1v1h-1zM532 540h1v1h-1zM532 541h1v1h-1zM532 542h1v1h-1zM532 543h1v1h-1zM532 544h1v1h-1zM532 545h1v1h-1zM532 546h1v1h-1zM532 547h1v1h-1zM532 548h1v1h-1zM512 674h41v1h-41zM518 680h29v1h-29zM525 687h17v1h-17zM530 693h4v1h-4z" fill="#ff0000"/><path d="M532 113h1v1h-1zM720 113h1v1h-1zM532 114h1v1h-1zM720 114h1v1h-1zM532 115h1v1h-1zM720 115h1v1h-1zM532 116h1v1h-1zM720 116h1v1h-1zM532 117h1v1h-1zM720 117h1v1h-1zM532 118h1v1h-1zM720 118h1v1h-1zM532 119h1v1h-1zM720 119h1v1h-1zM532 120h1v1h-1zM720 120h1v1h-1zM532 121h1v1h-1zM720 121h1v1h-1zM532 122h1v1h-1zM720 122h1v1h-1zM532 123h1v1h-1zM720 123h1v1h-1zM532 124h1v1h-1zM720 124h1v1h-1zM532 125h1v1h-1zM720 125h1v1h-1zM532 126h1v1h-1zM720 126h1v1h-1zM532 127h1v1h-1zM720 127h1v1h-1zM532 128h1v1h-1zM720 128h1v1h-1zM532 129h1v1h-1zM720 129h1v1h-1zM532 130h1v1h-1zM720 130h1v1h-1zM532 131h1v1h-1zM720 131h1v1h-1zM532 132h1v1h-1zM720 132h1v1h-1zM532 133h1v1h-1zM720 133h1v1h-1zM532 134h1v1h-1zM720 134h1v1h-1zM532 135h1v1h-1zM720 135h1v1h-1zM532 136h1v1h-1zM720 136h1v1h-1zM532 137h1v1h-1zM720 137h1v1h-1zM532 138h1v1h-1zM720 138h1v1h-1zM532 139h1v1h-1zM720 139h1v1h-1zM532 140h1v1h-1zM720 140h1v1h-1zM532 141h1v1h-1zM720 141h1v1h-1zM532 142h1v1h-1zM720 142h1v1h-1zM532 143h1v1h-1zM720 143h1v1h-1zM532 144h1v1h-1zM720 144h1v1h-1zM532 145h1v1h-1zM720 145h1v1h-1zM532 146h1v1h-1zM720 146h1v1h-1zM532 147h1v1h-1zM720 147h1v1h-1zM532 148h1v1h-1zM720 148h1v1h-1zM532 149h1v1h-1zM720 149h1v1h-1zM532 150h1v1h-1zM720 150h1v1h-1zM532 151h1v1h-1zM720 151h1v1h-1zM532 152h1v1h-1zM720 152h1v1h-1zM532 153h1v1h-1zM720 153h1v1h-1zM532 154h1v1h-1zM720 154h1v1h-1zM532 155h1v1h-1zM720 155h1v1h-1zM532 156h1v1h-1zM720 156h1v1h-1zM532 157h1v1h-1zM720 157h1v1h-1zM532 158h1v1h-1zM720 158h1v1h-1zM532 159h1v1h-1zM720 159h1v1h-1zM532 160h1v1h-1zM720 160h1v1h-1zM532 161h1v1h-1zM720 161h1v1h-1zM532 162h1v1h-1zM720 162h1v1h-1zM532 163h1v1h-1zM720 163h1v1h-1zM532 164h1v1h-1zM720 164h1v1h-1zM532 165h1v1h-1zM720 165h1v1h-1zM532 166h1v1h-1zM720 166h1v1h-1zM532 167h1v1h-1zM720 167h1v1h-1zM532 168h1v1h-1zM720 168h1v1h-1zM532 169h1v1h-1zM720 169h1v1h-1zM532 170h1v1h-1zM720 170h1v1h-1zM532 171h1v1h-1zM720 171h1v1h-1zM532 172h1v1h-1zM720 172h1v1h-1zM532 173h1v1h-1zM720 173h1v1h-1zM532 174h1v1h-1zM720 174h1v1h-1zM720 279h145v1h-145zM532 280h1v1h-1zM532 281h1v1h-1zM532 282h1v1h-1zM532 283h1v1h-1zM532 284h1v1h-1zM532 285h1v1h-1zM532 286h1v1h-1zM532 287h1v1h-1zM532 288h1v1h-1zM532 289h1v1h-1zM532 290h1v1h-1zM532 291h1v1h-1zM532 292h1v1h-1zM532 293h1v1h-1zM532 294h1v1h-1zM532 295h1v1h-1zM532 296h1v1h-1zM532 297h1v1h-1zM532 298h1v1h-1zM532 299h1v1h-1zM532 300h1v1h-1zM532 301h1v1h-1zM532 302h1v1h-1zM532 303h1v1h-1zM532 304h1v1h-1zM532 305h1v1h-1zM532 306h1v1h-1zM532 307h1v1h-1zM532 308h1v1h-1zM532 309h1v1h-1zM532 310h1v1h-1zM532 311h1v1h-1zM532 312h1v1h-1zM532 313h1v1h-1zM532 314h1v1h-1zM532 315h1v1h-1zM532 316h1v1h-1zM532 317h1v1h-1zM532 318h1v1h-1zM532 319h1v1h-1zM532 320h1v1h-1zM532 321h1v1h-1zM532 322h1v1h-1zM532 323h1v1h-1zM532 324h1v1h-1zM532 325h1v1h-1zM532 326h1v1h-1zM532 327h1v1h-1zM532 328h1v1h-1zM532 329h1v1h-1zM532 330h1v1h-1zM532 331h1v1h-1zM532 332h1v1h-1zM532 333h1v1h-1zM532 334h1v1h-1zM532 335h1v1h-1zM532 336h1v1h-1zM532 337h1v1h-1zM532 338h1v1h-1zM532 339h1v1h-1zM532 340h1v1h-1zM532 341h1v1h-1zM532 342h1v1h-1zM532 343h1v1h-1zM532 344h1v1h-1zM532 345h1v1h-1zM532 346h1v1h-1zM532 347h1v1h-1zM532 348h1v1h-1zM532 349h1v1h-1zM532 350h1v1h-1zM532 351h1v1h-1zM532 352h1v1h-1zM532 353h1v1h-1zM532 354h1v1h-1zM532 355h1v1h-1zM532 356h1v1h-1zM532 357h1v1h-1zM532 358h1v1h-1zM536 362h101v1h-101zM532 366h1v1h-1zM532 367h1v1h-1zM532 368h1v1h-1zM532 369h1v1h-1zM532 370h1v1h-1zM532 371h1v1h-1zM532 372h1v1h-1zM532 373h1v1h-1zM532 374h1v1h-1zM532 375h1v1h-1zM532 376h1v1h-1zM532 377h1v1h-1zM532 378h1v1h-1zM532 379h1v1h-1zM532 380h1v1h-1zM532 381h1v1h-1zM532 382h1v1h-1zM532 383h1v1h-1zM532 384h1v1h-1zM532 385h1v1h-1zM532 386h1v1h-1zM532 387h1v1h-1zM532 388h1v1h-1zM532 389h1v1h-1zM532 390h1v1h-1zM532 391h1v1h-1zM532 392h1v1h-1zM532 393h1v1h-1zM532 394h1v1h-1zM532 395h1v1h-1zM532 396h1v1h-1zM532 397h1v1h-1zM532 398h1v1h-1zM532 399h1v1h-1zM532 400h1v1h-1zM532 401h1v1h-1zM532 402h1v1h-1zM532 403h1v1h-1zM532 404h1v1h-1zM720 404h1v1h-1zM532 405h1v1h-1zM720 405h1v1h-1zM532 406h1v1h-1zM720 406h1v1h-1zM532 407h1v1h-1zM720 407h1v1h-1zM532 408h1v1h-1zM720 408h1v1h-1zM532 409h1v1h-1zM720 409h1v1h-1zM532 410h1v1h-1zM720 410h1v1h-1zM532 411h1v1h-1zM720 411h1v1h-1zM532 412h1v1h-1zM720 412h1v1h-1zM532 413h1v1h-1zM720 413h1v1h-1zM532 414h1v1h-1zM720 414h1v1h-1zM532 415h1v1h-1zM720 415h1v1h-1zM532 416h1v1h-1zM720 416h1v1h-1zM532 417h1v1h-1zM720 417h1v1h-1zM532 418h1v1h-1zM720 418h1v1h-1zM532 419h1v1h-1zM720 419h1v1h-1zM532 420h1v1h-1zM720 420h1v1h-1zM532 421h1v1h-1zM720 421h1v1h-1zM532 422h1v1h-1zM720 422h1v1h-1zM532 423h1v1h-1zM720 423h1v1h-1zM532 424h1v1h-1zM720 424h1v1h-1zM720 425h1v1h-1zM720 426h1v1h-1zM720 427h1v1h-1zM720 428h1v1h-1zM720 429h1v1h-1zM720 430h1v1h-1zM720 431h1v1h-1zM720 432h1v1h-1zM720 433h1v1h-1zM720 434h1v1h-1zM720 435h1v1h-1zM720 436h1v1h-1zM720 437h1v1h-1zM720 438h1v1h-1zM720 439h1v1h-1zM720 440h1v1h-1zM720 441h1v1h-1zM720 442h1v1h-1zM720 443h1v1h-1zM720 444h1v1h-1zM720 445h1v1h-1zM720 446h1v1h-1zM720 447h1v1h-1zM720 448h1v1h-1zM720 449h1v1h-1zM720 450h1v1h-1zM720 451h1v1h-1zM720 452h1v1h-1zM720 453h1v1h-1zM720 454h1v1h-1zM720 455h1v1h-1zM720 456h1v1h-1zM720 457h1v1h-1zM720 458h1v1h-1zM720 459h1v1h-1zM720 460h1v1h-1zM720 461h1v1h-1zM720 462h1v1h-1zM720 463h1v1h-1zM720 464h1v1h-1zM720 465h1v1h-1zM720 466h1v1h-1zM720 467h1v1h-1zM720 468h1v1h-1zM720 469h1v1h-1zM720 470h1v1h-1zM720 471h1v1h-1zM720 472h1v1h-1zM720 473h1v1h-1zM720 474h1v1h-1zM720 475h1v1h-1zM720 476h1v1h-1zM720 477h1v1h-1zM720 478h1v1h-1zM720 479h1v1h-1zM720 480h1v1h-1zM720 481h1v1h-1zM720 482h1v1h-1zM720 483h1v1h-1zM720 484h1v1h-1zM720 485h1v1h-1zM720 486h1v1h-1zM720 487h1v1h-1zM720 488h1v1h-1zM720 489h1v1h-1zM720 490h1v1h-1zM720 491h1v1h-1zM720 492h1v1h-1zM720 493h1v1h-1zM720 494h1v1h-1zM720 495h1v1h-1zM720 496h1v1h-1zM720 497h1v1h-1zM720 498h1v1h-1zM720 499h1v1h-1zM720 500h1v1h-1zM720 501h1v1h-1zM720 502h1v1h-1zM720 503h1v1h-1zM720 504h1v1h-1zM720 505h1v1h-1zM720 506h1v1h-1zM720 507h1v1h-1zM97 508h124v1h-124zM324 508h125v1h-125zM720 508h1v1h-1zM720 509h1v1h-1zM720 510h1v1h-1zM720 511h1v1h-1zM720 512h1v1h-1zM720 513h1v1h-1zM720 514h1v1h-1zM720 515h1v1h-1zM720 516h1v1h-1zM720 517h1v1h-1zM720 518h1v1h-1zM720 519h1v1h-1zM720 520h1v1h-1zM720 521h1v1h-1zM720 522h1v1h-1zM720 523h1v1h-1zM720 524h1v1h-1zM720 525h1v1h-1zM720 526h1v1h-1zM720 527h1v1h-1zM720 528h1v1h-1zM720 529h1v1h-1zM720 530h1v1h-1zM720 531h1v1h-1zM720 532h1v1h-1zM720 533h1v1h-1zM720 534h1v1h-1zM720 535h1v1h-1zM720 536h1v1h-1zM720 537h1v1h-1zM720 538h1v1h-1zM720 539h1v1h-1zM720 540h1v1h-1zM720 541h1v1h-1zM720 542h1v1h-1zM720 543h1v1h-1zM720 544h1v1h-1zM720 545h1v1h-1zM720 546h1v1h-1zM720 547h1v1h-1zM720 548h1v1h-1zM532 549h1v1h-1zM720 549h1v1h-1zM532 550h1v1h-1zM720 550h1v1h-1zM532 551h1v1h-1zM720 551h1v1h-1zM532 552h1v1h-1zM720 552h1v1h-1zM532 553h1v1h-1zM720 553h1v1h-1zM532 554h1v1h-1zM720 554h1v1h-1zM532 555h1v1h-1zM720 555h1v1h-1zM532 556h1v1h-1zM720 556h1v1h-1zM532 557h1v1h-1zM720 557h1v1h-1zM532 558h1v1h-1zM720 558h1v1h-1zM532 559h1v1h-1zM720 559h1v1h-1zM532 560h1v1h-1zM720 560h1v1h-1zM532 561h1v1h-1zM720 561h1v1h-1zM532 562h1v1h-1zM720 562h1v1h-1zM532 563h1v1h-1zM720 563h1v1h-1zM532 564h1v1h-1zM720 564h1v1h-1zM532 565h1v1h-1zM720 565h1v1h-1zM532 566h1v1h-1zM720 566h1v1h-1zM720 567h1v1h-1zM720 568h1v1h-1zM720 569h1v1h-1zM536 570h185v1h-185zM532 574h1v1h-1zM532 575h1v1h-1zM532 576h1v1h-1zM532 577h1v1h-1zM532 578h1v1h-1zM532 579h1v1h-1zM532 580h1v1h-1zM532 581h1v1h-1zM532 582h1v1h-1zM532 583h1v1h-1zM532 584h1v1h-1zM532 585h1v1h-1zM532 586h1v1h-1zM532 587h1v1h-1zM532 588h1v1h-1zM532 589h1v1h-1zM532 590h1v1h-1zM532 591h1v1h-1zM532 592h1v1h-1zM532 593h1v1h-1zM532 594h1v1h-1zM532 595h1v1h-1zM532 596h1v1h-1zM532 597h1v1h-1zM532 598h1v1h-1zM532 599h1v1h-1zM532 600h1v1h-1zM532 601h1v1h-1zM532 602h1v1h-1zM532 603h1v1h-1zM532 604h1v1h-1zM532 605h1v1h-1zM532 606h1v1h-1zM532 607h1v1h-1zM532 608h1v1h-1zM532 609h1v1h-1zM532 610h1v1h-1zM532 611h1v1h-1zM532 612h1v1h-1zM532 613h1v1h-1zM532 614h1v1h-1zM532 615h1v1h-1zM532 616h1v1h-1zM532 617h1v1h-1zM532 618h1v1h-1zM532 619h1v1h-1zM532 620h1v1h-1zM532 621h1v1h-1zM532 622h1v1h-1zM532 623h1v1h-1zM532 624h1v1h-1zM532 625h1v1h-1zM532 626h1v1h-1zM532 627h1v1h-1zM532 628h1v1h-1zM532 629h1v1h-1zM532 630h1v1h-1zM532 631h1v1h-1zM532 632h1v1h-1zM532 633h1v1h-1zM532 634h1v1h-1zM532 635h1v1h-1zM532 636h1v1h-1zM532 637h1v1h-1zM532 638h1v1h-1zM532 639h1v1h-1zM532 640h1v1h-1zM532 641h1v1h-1zM532 642h1v1h-1zM532 643h1v1h-1zM532 644h1v1h-1zM532 645h1v1h-1zM532 646h1v1h-1zM532 647h1v1h-1zM532 648h1v1h-1zM532 649h1v1h-1zM532 650h1v1h-1zM532 651h1v1h-1zM532 652h1v1h-1zM532 653h1v1h-1zM532 654h1v1h-1zM532 655h1v1h-1zM532 656h1v1h-1zM532 657h1v1h-1zM532 658h1v1h-1zM532 659h1v1h-1zM532 660h1v1h-1zM532 661h1v1h-1zM532 662h1v1h-1zM532 663h1v1h-1zM532 664h1v1h-1zM532 665h1v1h-1zM532 666h1v1h-1zM532 667h1v1h-1zM532 668h1v1h-1zM532 669h1v1h-1zM532 670h1v1h-1zM532 671h1v1h-1zM532 672h1v1h-1zM532 673h1v1h-1z" fill="#800040"/><path d="M531 197h1v1h-1zM719 197h1v1h-1zM530 198h1v1h-1zM718 198h1v1h-1zM529 199h1v1h-1zM716 199h2v1h-2zM528 200h1v1h-1zM715 200h1v1h-1zM527 201h1v1h-1zM714 201h1v1h-1zM526 202h1v1h-1zM713 202h1v1h-1zM527 203h1v1h-1zM714 203h1v1h-1zM528 204h1v1h-1zM715 204h1v1h-1zM529 205h1v1h-1zM716 205h1v1h-1zM530 206h1v1h-1zM717 206h1v1h-1zM531 207h1v1h-1zM718 207h1v1h-1zM532 208h1v1h-1zM719 208h1v1h-1zM533 209h1v1h-1zM720 209h1v1h-1zM534 210h1v1h-1zM721 210h1v1h-1zM535 211h1v1h-1zM722 211h1v1h-1zM536 212h1v1h-1zM723 212h1v1h-1zM537 213h1v1h-1zM724 213h1v1h-1zM538 214h1v1h-1zM725 214h1v1h-1zM539 215h1v1h-1zM726 215h1v1h-1zM538 216h1v1h-1zM725 216h1v1h-1zM537 217h1v1h-1zM724 217h1v1h-1zM536 218h1v1h-1zM723 218h1v1h-1zM535 219h1v1h-1zM722 219h1v1h-1zM534 220h1v1h-1zM721 220h1v1h-1zM532 221h2v1h-2zM719 221h2v1h-2zM531 222h1v1h-1zM718 222h1v1h-1zM530 223h1v1h-1zM717 223h1v1h-1zM529 224h1v1h-1zM716 224h1v1h-1zM528 225h1v1h-1zM715 225h1v1h-1zM527 226h1v1h-1zM714 226h1v1h-1zM526 227h1v1h-1zM713 227h1v1h-1zM527 228h1v1h-1zM714 228h1v1h-1zM528 229h1v1h-1zM715 229h1v1h-1zM529 230h1v1h-1zM716 230h1v1h-1zM530 231h1v1h-1zM717 231h1v1h-1zM531 232h1v1h-1zM718 232h1v1h-1zM532 233h2v1h-2zM719 233h2v1h-2zM534 234h1v1h-1zM721 234h1v1h-1zM535 235h1v1h-1zM722 235h1v1h-1zM536 236h1v1h-1zM723 236h1v1h-1zM537 237h1v1h-1zM724 237h1v1h-1zM538 238h1v1h-1zM725 238h1v1h-1zM539 239h1v1h-1zM726 239h1v1h-1zM538 240h1v1h-1zM725 240h1v1h-1zM537 241h1v1h-1zM724 241h1v1h-1zM536 242h1v1h-1zM723 242h1v1h-1zM535 243h1v1h-1zM722 243h1v1h-1zM534 244h1v1h-1zM721 244h1v1h-1zM533 245h1v1h-1zM720 245h1v1h-1zM532 246h1v1h-1zM719 246h1v1h-1zM531 247h1v1h-1zM718 247h1v1h-1zM530 248h1v1h-1zM717 248h1v1h-1zM529 249h1v1h-1zM716 249h1v1h-1zM528 250h1v1h-1zM715 250h1v1h-1zM527 251h1v1h-1zM714 251h1v1h-1zM526 252h1v1h-1zM713 252h1v1h-1zM527 253h1v1h-1zM714 253h1v1h-1zM528 254h1v1h-1zM715 254h1v1h-1zM529 255h1v1h-1zM716 255h2v1h-2zM530 256h1v1h-1zM718 256h1v1h-1zM531 257h1v1h-1zM719 257h1v1h-1zM720 301h1v1h-1zM720 302h1v1h-1zM720 303h1v1h-1zM720 304h1v1h-1zM720 305h1v1h-1zM720 306h1v1h-1zM720 307h1v1h-1zM720 308h1v1h-1zM720 309h1v1h-1zM720 310h1v1h-1zM688 311h1v1h-1zM720 311h1v1h-1zM688 312h1v1h-1zM720 312h1v1h-1zM688 313h1v1h-1zM720 313h1v1h-1zM688 314h1v1h-1zM720 314h1v1h-1zM688 315h1v1h-1zM720 315h1v1h-1zM688 316h1v1h-1zM720 316h1v1h-1zM688 317h1v1h-1zM720 317h1v1h-1zM688 318h1v1h-1zM720 318h1v1h-1zM688 319h53v1h-53zM688 320h1v1h-1zM740 320h1v1h-1zM678 321h1v1h-1zM688 321h1v1h-1zM740 321h1v1h-1zM678 322h1v1h-1zM688 322h1v1h-1zM740 322h1v1h-1zM678 323h1v1h-1zM688 323h1v1h-1zM740 323h1v1h-1zM678 324h1v1h-1zM688 324h1v1h-1zM740 324h1v1h-1zM678 325h1v1h-1zM688 325h1v1h-1zM740 325h1v1h-1zM678 326h1v1h-1zM688 326h1v1h-1zM740 326h1v1h-1zM678 327h1v1h-1zM688 327h1v1h-1zM740 327h1v1h-1zM678 328h1v1h-1zM740 328h1v1h-1zM678 329h1v1h-1zM740 329h1v1h-1zM678 330h1v1h-1zM740 330h1v1h-1zM678 331h1v1h-1zM730 331h21v1h-21zM678 332h1v1h-1zM739 332h3v1h-3zM678 333h1v1h-1zM738 333h5v1h-5zM678 334h1v1h-1zM688 334h1v1h-1zM737 334h7v1h-7zM678 335h1v1h-1zM688 335h1v1h-1zM736 335h9v1h-9zM678 336h1v1h-1zM688 336h1v1h-1zM735 336h11v1h-11zM678 337h1v1h-1zM688 337h1v1h-1zM702 337h2v1h-2zM734 337h14v1h-14zM678 338h1v1h-1zM688 338h1v1h-1zM698 338h6v1h-6zM733 338h16v1h-16zM678 339h1v1h-1zM688 339h1v1h-1zM694 339h10v1h-10zM732 339h18v1h-18zM678 340h1v1h-1zM688 340h1v1h-1zM690 340h14v1h-14zM731 340h20v1h-20zM678 341h1v1h-1zM688 341h33v1h-33zM730 341h22v1h-22zM678 342h1v1h-1zM688 342h1v1h-1zM690 342h14v1h-14zM720 342h1v1h-1zM740 342h1v1h-1zM678 343h1v1h-1zM688 343h1v1h-1zM693 343h11v1h-11zM720 343h1v1h-1zM740 343h1v1h-1zM678 344h1v1h-1zM688 344h1v1h-1zM696 344h8v1h-8zM720 344h1v1h-1zM740 344h1v1h-1zM678 345h1v1h-1zM688 345h1v1h-1zM699 345h5v1h-5zM720 345h1v1h-1zM740 345h1v1h-1zM678 346h1v1h-1zM688 346h1v1h-1zM702 346h2v1h-2zM720 346h1v1h-1zM740 346h1v1h-1zM678 347h1v1h-1zM688 347h1v1h-1zM720 347h1v1h-1zM740 347h1v1h-1zM678 348h1v1h-1zM688 348h1v1h-1zM720 348h1v1h-1zM740 348h1v1h-1zM678 349h1v1h-1zM688 349h1v1h-1zM720 349h1v1h-1zM740 349h1v1h-1zM678 350h1v1h-1zM688 350h1v1h-1zM720 350h1v1h-1zM740 350h1v1h-1zM678 351h1v1h-1zM720 351h1v1h-1zM740 351h1v1h-1zM678 352h1v1h-1zM720 352h1v1h-1zM740 352h1v1h-1zM678 353h1v1h-1zM720 353h1v1h-1zM740 353h1v1h-1zM678 354h1v1h-1zM720 354h1v1h-1zM740 354h1v1h-1zM678 355h1v1h-1zM720 355h1v1h-1zM740 355h1v1h-1zM678 356h1v1h-1zM720 356h1v1h-1zM740 356h1v1h-1zM678 357h1v1h-1zM688 357h1v1h-1zM720 357h1v1h-1zM740 357h1v1h-1zM678 358h1v1h-1zM688 358h1v1h-1zM720 358h1v1h-1zM740 358h1v1h-1zM678 359h1v1h-1zM688 359h1v1h-1zM720 359h1v1h-1zM740 359h1v1h-1zM678 360h1v1h-1zM688 360h1v1h-1zM720 360h1v1h-1zM740 360h1v1h-1zM678 361h1v1h-1zM688 361h1v1h-1zM720 361h1v1h-1zM740 361h1v1h-1zM658 362h21v1h-21zM688 362h1v1h-1zM720 362h1v1h-1zM740 362h1v1h-1zM688 363h1v1h-1zM720 363h1v1h-1zM740 363h1v1h-1zM688 364h53v1h-53zM688 365h1v1h-1zM720 365h1v1h-1zM688 366h1v1h-1zM720 366h1v1h-1zM688 367h1v1h-1zM720 367h1v1h-1zM688 368h1v1h-1zM720 368h1v1h-1zM688 369h1v1h-1zM720 369h1v1h-1zM688 370h1v1h-1zM720 370h1v1h-1zM688 371h1v1h-1zM720 371h1v1h-1zM688 372h1v1h-1zM720 372h1v1h-1zM688 373h1v1h-1zM720 373h1v1h-1zM720 374h1v1h-1zM720 375h1v1h-1zM720 376h1v1h-1zM720 377h1v1h-1zM720 378h1v1h-1zM720 379h1v1h-1zM720 380h1v1h-1zM720 381h1v1h-1zM720 382h1v1h-1zM532 446h1v1h-1zM532 447h1v1h-1zM532 448h1v1h-1zM532 449h1v1h-1zM532 450h1v1h-1zM532 451h1v1h-1zM532 452h1v1h-1zM532 453h1v1h-1zM532 454h1v1h-1zM532 455h1v1h-1zM532 456h1v1h-1zM501 457h1v1h-1zM532 457h1v1h-1zM501 458h1v1h-1zM532 458h1v1h-1zM501 459h1v1h-1zM532 459h1v1h-1zM501 460h1v1h-1zM532 460h1v1h-1zM501 461h1v1h-1zM532 461h1v1h-1zM501 462h1v1h-1zM532 462h1v1h-1zM501 463h1v1h-1zM532 463h1v1h-1zM501 464h53v1h-53zM501 465h1v1h-1zM553 465h1v1h-1zM491 466h1v1h-1zM501 466h1v1h-1zM553 466h1v1h-1zM491 467h1v1h-1zM501 467h1v1h-1zM553 467h1v1h-1zM491 468h1v1h-1zM501 468h1v1h-1zM553 468h1v1h-1zM491 469h1v1h-1zM501 469h1v1h-1zM553 469h1v1h-1zM491 470h1v1h-1zM501 470h1v1h-1zM553 470h1v1h-1zM491 471h1v1h-1zM501 471h1v1h-1zM553 471h1v1h-1zM491 472h1v1h-1zM501 472h1v1h-1zM553 472h1v1h-1zM491 473h1v1h-1zM553 473h1v1h-1zM491 474h1v1h-1zM553 474h1v1h-1zM491 475h1v1h-1zM553 475h1v1h-1zM491 476h1v1h-1zM553 476h1v1h-1zM491 477h1v1h-1zM543 477h21v1h-21zM491 478h1v1h-1zM552 478h3v1h-3zM491 479h1v1h-1zM551 479h5v1h-5zM491 480h1v1h-1zM501 480h1v1h-1zM550 480h7v1h-7zM491 481h1v1h-1zM501 481h1v1h-1zM549 481h9v1h-9zM491 482h1v1h-1zM501 482h1v1h-1zM548 482h11v1h-11zM491 483h1v1h-1zM501 483h1v1h-1zM515 483h2v1h-2zM547 483h14v1h-14zM491 484h1v1h-1zM501 484h1v1h-1zM511 484h6v1h-6zM546 484h16v1h-16zM491 485h1v1h-1zM501 485h1v1h-1zM507 485h10v1h-10zM545 485h18v1h-18zM491 486h1v1h-1zM501 486h1v1h-1zM503 486h14v1h-14zM544 486h20v1h-20zM491 487h1v1h-1zM501 487h32v1h-32zM543 487h22v1h-22zM491 488h1v1h-1zM501 488h1v1h-1zM503 488h14v1h-14zM532 488h1v1h-1zM553 488h1v1h-1zM491 489h1v1h-1zM501 489h1v1h-1zM507 489h10v1h-10zM532 489h1v1h-1zM553 489h1v1h-1zM491 490h1v1h-1zM501 490h1v1h-1zM511 490h6v1h-6zM532 490h1v1h-1zM553 490h1v1h-1zM491 491h1v1h-1zM501 491h1v1h-1zM515 491h2v1h-2zM532 491h1v1h-1zM553 491h1v1h-1zM491 492h1v1h-1zM501 492h1v1h-1zM532 492h1v1h-1zM553 492h1v1h-1zM491 493h1v1h-1zM501 493h1v1h-1zM532 493h1v1h-1zM553 493h1v1h-1zM491 494h1v1h-1zM501 494h1v1h-1zM532 494h1v1h-1zM553 494h1v1h-1zM491 495h1v1h-1zM501 495h1v1h-1zM532 495h1v1h-1zM553 495h1v1h-1zM491 496h1v1h-1zM532 496h1v1h-1zM553 496h1v1h-1zM491 497h1v1h-1zM532 497h1v1h-1zM553 497h1v1h-1zM491 498h1v1h-1zM532 498h1v1h-1zM553 498h1v1h-1zM491 499h1v1h-1zM532 499h1v1h-1zM553 499h1v1h-1zM491 500h1v1h-1zM532 500h1v1h-1zM553 500h1v1h-1zM491 501h1v1h-1zM532 501h1v1h-1zM553 501h1v1h-1zM247 502h1v1h-1zM272 502h1v1h-1zM297 502h1v1h-1zM491 502h1v1h-1zM532 502h1v1h-1zM553 502h1v1h-1zM246 503h1v1h-1zM248 503h1v1h-1zM271 503h1v1h-1zM273 503h1v1h-1zM296 503h1v1h-1zM298 503h1v1h-1zM491 503h1v1h-1zM501 503h1v1h-1zM532 503h1v1h-1zM553 503h1v1h-1zM245 504h1v1h-1zM249 504h1v1h-1zM270 504h1v1h-1zM274 504h1v1h-1zM295 504h1v1h-1zM299 504h1v1h-1zM491 504h1v1h-1zM501 504h1v1h-1zM532 504h1v1h-1zM553 504h1v1h-1zM244 505h1v1h-1zM250 505h1v1h-1zM269 505h1v1h-1zM275 505h1v1h-1zM294 505h1v1h-1zM300 505h2v1h-2zM491 505h1v1h-1zM501 505h1v1h-1zM532 505h1v1h-1zM553 505h1v1h-1zM243 506h1v1h-1zM251 506h1v1h-1zM268 506h1v1h-1zM276 506h1v1h-1zM293 506h1v1h-1zM302 506h1v1h-1zM491 506h1v1h-1zM501 506h1v1h-1zM532 506h1v1h-1zM553 506h1v1h-1zM242 507h1v1h-1zM252 507h1v1h-1zM267 507h1v1h-1zM277 507h1v1h-1zM292 507h1v1h-1zM303 507h1v1h-1zM491 507h1v1h-1zM501 507h1v1h-1zM532 507h1v1h-1zM553 507h1v1h-1zM253 508h2v1h-2zM266 508h1v1h-1zM278 508h2v1h-2zM291 508h1v1h-1zM471 508h21v1h-21zM501 508h1v1h-1zM532 508h1v1h-1zM553 508h1v1h-1zM255 509h1v1h-1zM265 509h1v1h-1zM280 509h1v1h-1zM290 509h1v1h-1zM501 509h1v1h-1zM532 509h1v1h-1zM553 509h1v1h-1zM256 510h1v1h-1zM264 510h1v1h-1zM281 510h1v1h-1zM289 510h1v1h-1zM501 510h53v1h-53zM257 511h1v1h-1zM263 511h1v1h-1zM282 511h1v1h-1zM288 511h1v1h-1zM501 511h1v1h-1zM532 511h1v1h-1zM258 512h1v1h-1zM262 512h1v1h-1zM283 512h1v1h-1zM287 512h1v1h-1zM501 512h1v1h-1zM532 512h1v1h-1zM259 513h1v1h-1zM261 513h1v1h-1zM284 513h1v1h-1zM286 513h1v1h-1zM501 513h1v1h-1zM532 513h1v1h-1zM260 514h1v1h-1zM285 514h1v1h-1zM501 514h1v1h-1zM532 514h1v1h-1zM501 515h1v1h-1zM532 515h1v1h-1zM501 516h1v1h-1zM532 516h1v1h-1zM501 517h1v1h-1zM532 517h1v1h-1zM501 518h1v1h-1zM532 518h1v1h-1zM532 519h1v1h-1zM532 520h1v1h-1zM532 521h1v1h-1zM532 522h1v1h-1zM532 523h1v1h-1zM532 524h1v1h-1zM532 525h1v1h-1zM532 526h1v1h-1zM532 527h1v1h-1zM532 528h1v1h-1z" fill="#0000ff"/><path d="M530 359h5v1h-5zM530 360h5v1h-5zM529 361h7v1h-7zM529 362h7v1h-7zM530 363h5v1h-5zM530 364h5v1h-5zM531 365h3v1h-3zM530 567h5v1h-5zM530 568h5v1h-5zM529 569h7v1h-7zM529 570h7v1h-7zM530 571h5v1h-5zM530 572h5v1h-5zM531 573h3v1h-3z" fill="#ff00ff"/><path d="M595 506h24v1h-24z" fill="#000080"/></g><g font-family="Liberation Sans, sans-serif" text-rendering="geometricPrecision" stroke-width="0.08" class="t"><g transform="translate(511.863,87.579) scale(1.0355,1.0901)" fill="#000000" stroke="#000000"><text x="0.000" y="0" font-size="17">VCC</text></g><g transform="translate(698.863,87.579) scale(1.0355,1.0901)" fill="#000000" stroke="#000000"><text x="0.000" y="0" font-size="17">VCC</text></g><g transform="translate(552.346,212.780) scale(1.0119,1.0216)" fill="#000080" stroke="#000080"><text x="0.000" y="0" font-size="18">R26</text></g><g transform="translate(739.348,212.780) scale(1.0108,1.0216)" fill="#000080" stroke="#000080"><text x="0.000" y="0" font-size="18">R25</text></g><g transform="translate(785.870,274.876) scale(1.0205,1.0452)" fill="#ff0000" stroke="#ff0000"><text x="0.000" y="0" font-size="18">OUTPUT</text></g><g transform="translate(667.151,288.660) scale(0.9915,1.0386)" fill="#ff0000" stroke="#ff0000"><text x="0.000" y="0" font-size="22">D</text></g><g transform="translate(714.961,284.396) rotate(-90) scale(0.8352,1.0184)" fill="#000000" stroke="#000000"><text x="0.000" y="0" font-size="20">3</text></g><g transform="translate(609.914,351.739) scale(0.9274,1.0285)" fill="#ff0000" stroke="#ff0000"><text x="0.000" y="0" font-size="22">G</text></g><g transform="translate(630.495,356.760) scale(1.1226,0.9971)" fill="#000000" stroke="#000000"><polygon points="7.451,0.000 6.006,0.000 6.006,-11.621 2.178,-8.496 2.178,-9.863 6.250,-13.379 6.738,-13.760 7.451,-13.760"/></g><g transform="translate(774.301,374.485) scale(0.9844,0.9981)" fill="#000080" stroke="#000080"><polygon points="6.337,-2.733 12.850,0.879 13.430,-0.176 6.917,-3.788"/><text x="0.000" y="0" font-size="18">O3</text></g><g transform="translate(715.160,407.967) rotate(-90) scale(0.9022,1.0183)" fill="#000000" stroke="#000000"><text x="0.000" y="0" font-size="20">2</text></g><g transform="translate(736.150,409.640) scale(0.7912,1.0221)" fill="#ff0000" stroke="#ff0000"><text x="0.000" y="0" font-size="22">S</text></g><g transform="translate(526.961,429.496) rotate(-90) scale(0.8352,1.0184)" fill="#000000" stroke="#000000"><text x="0.000" y="0" font-size="20">3</text></g><g transform="translate(545.051,439.760) scale(0.9915,1.0386)" fill="#ff0000" stroke="#ff0000"><text x="0.000" y="0" font-size="22">D</text></g><g transform="translate(118.966,503.778) scale(1.0076,1.0367)" fill="#ff0000" stroke="#ff0000"><text x="0.000" y="0" font-size="18">INPUT</text></g><g transform="translate(240.533,503.683) scale(1.0205,1.0060)" fill="#000080" stroke="#000080"><text x="0.000" y="0" font-size="18">R</text><polygon points="19.705,0.000 18.404,0.000 18.404,-10.459 14.959,-7.646 14.959,-8.877 18.624,-12.041 19.063,-12.384 19.705,-12.384"/><text x="23.010" y="0" font-size="18">9</text></g><g transform="translate(406.979,501.444) scale(0.9135,1.0060)" fill="#ff0000" stroke="#ff0000"><text x="0.000" y="0" font-size="22">G</text></g><g transform="translate(443.213,502.760) scale(1.1605,1.0116)" fill="#000000" stroke="#000000"><polygon points="7.451,0.000 6.006,0.000 6.006,-11.621 2.178,-8.496 2.178,-9.863 6.250,-13.379 6.738,-13.760 7.451,-13.760"/></g><g transform="translate(595.189,503.683) scale(0.9983,1.0060)" fill="#000080" stroke="#000080"><polygon points="6.337,-2.733 12.850,0.879 13.430,-0.176 6.917,-3.788"/><text x="0.000" y="0" font-size="18">O</text><polygon points="20.707,0.000 19.406,0.000 19.406,-10.459 15.961,-7.646 15.961,-8.877 19.626,-12.041 20.065,-12.384 20.707,-12.384"/></g><g transform="translate(527.160,553.967) rotate(-90) scale(0.9022,1.0326)" fill="#000000" stroke="#000000"><text x="0.000" y="0" font-size="20">2</text></g><g transform="translate(555.150,557.540) scale(0.7912,1.0221)" fill="#ff0000" stroke="#ff0000"><text x="0.000" y="0" font-size="22">S</text></g></g></svg></body></html>
